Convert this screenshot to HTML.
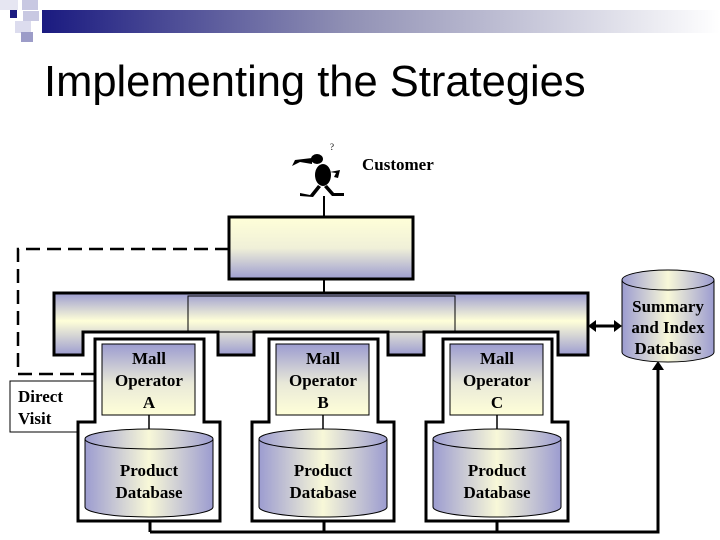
<!DOCTYPE html>
<html><head><meta charset="utf-8"><style>
html,body{margin:0;padding:0;background:#fff;width:720px;height:540px;overflow:hidden}
</style></head><body>
<svg width="720" height="540" viewBox="0 0 720 540" xmlns="http://www.w3.org/2000/svg">
<defs>
<linearGradient id="hdr" x1="0" x2="1" y1="0" y2="0"><stop offset="0" stop-color="#1a1a80"/><stop offset="0.45" stop-color="#9090b4"/><stop offset="1" stop-color="#ffffff"/></linearGradient>
<linearGradient id="vb" x1="0" x2="0" y1="0" y2="1"><stop offset="0" stop-color="#9c9cd0"/><stop offset="0.55" stop-color="#e8e8d8"/><stop offset="1" stop-color="#ffffd8"/></linearGradient>
<linearGradient id="top" x1="0" x2="0" y1="0" y2="1"><stop offset="0" stop-color="#ffffd8"/><stop offset="0.5" stop-color="#f0f0d8"/><stop offset="1" stop-color="#9c9cd0"/></linearGradient>
<linearGradient id="bar" x1="0" x2="0" y1="0" y2="1"><stop offset="0" stop-color="#9c9cd0"/><stop offset="0.45" stop-color="#ffffd8"/><stop offset="1" stop-color="#9c9cd0"/></linearGradient>
<linearGradient id="cylh" x1="0" x2="1" y1="0" y2="0"><stop offset="0" stop-color="#9c9cd0"/><stop offset="0.5" stop-color="#f8f8d8"/><stop offset="1" stop-color="#9c9cd0"/></linearGradient>
</defs>
<rect x="42" y="10" width="678" height="23" fill="url(#hdr)"/>
<rect x="0" y="0" width="18" height="10" fill="#e6e6f2"/>
<rect x="22" y="0" width="16" height="10" fill="#c8c8e2"/>
<rect x="10" y="10" width="7" height="8" fill="#1a1a80"/>
<rect x="23" y="11" width="16" height="10" fill="#c8c8e2"/>
<rect x="15" y="21" width="16" height="12" fill="#dcdcee"/>
<rect x="21" y="32" width="12" height="10" fill="#9c9cc8"/>
<text x="44" y="96" font-family="Liberation Sans, sans-serif" font-size="43.5" fill="#000">Implementing the Strategies</text>
<g fill="#000">
<ellipse cx="323" cy="175" rx="8" ry="11"/>
<ellipse cx="317" cy="159" rx="6" ry="5"/>
<path d="M312 158 L295 160 L292 166 L300 162 L312 164Z"/>
<path d="M318 185 L310 195 L300 193 L300 196 L313 197 L321 187Z"/>
<path d="M327 185 L334 193 L344 193 L344 196 L332 196 L324 187Z"/>
<path d="M330 172 L340 170 L338 178 L334 177 L336 173Z"/>
</g>
<text x="330" y="150" font-family="Liberation Serif" font-size="9">?</text>
<text x="362" y="170" font-family="Liberation Serif, serif" font-weight="bold" font-size="17">Customer</text>
<g stroke="#000" stroke-width="2" fill="none">
<line x1="324" y1="196" x2="324" y2="217"/>
<line x1="324" y1="279" x2="324" y2="293"/>
</g>
<rect x="229" y="217" width="184" height="62" fill="url(#top)" stroke="#000" stroke-width="3"/>
<path d="M54 293 H588 V355 H558 V332 H424 V355 H388 V332 H254 V355 H218 V332 H83 V355 H54 Z" fill="url(#bar)" stroke="#000" stroke-width="3"/>
<rect x="188" y="296" width="267" height="36" fill="none" stroke="#000" stroke-width="1"/>
<path d="M229 249 H18 V374 H97" fill="none" stroke="#000" stroke-width="2.5" stroke-dasharray="14,7"/>
<path d="M97 368 L104 374 L97 380Z" fill="#000"/>
<rect x="10" y="381" width="86" height="51" fill="#fff" stroke="#000" stroke-width="1"/>
<text font-family="Liberation Serif, serif" font-weight="bold" font-size="17"><tspan x="18" y="402">Direct</tspan><tspan x="18" y="424">Visit</tspan></text>
<g stroke="#000" stroke-width="3" fill="none">
<path d="M150 532 H658 V368"/>
<line x1="150" y1="517" x2="150" y2="532"/>
<line x1="324" y1="517" x2="324" y2="532"/>
<line x1="497" y1="517" x2="497" y2="532"/>
<line x1="592" y1="326" x2="618" y2="326"/>
</g>
<path d="M652 370 L658 361 L664 370Z" fill="#000"/>
<path d="M596 320 L588 326 L596 332Z" fill="#000"/>
<path d="M614 320 L622 326 L614 332Z" fill="#000"/>
<g font-family="Liberation Serif, serif" font-weight="bold" font-size="17" text-anchor="middle">
<g>
<path d="M95 339 H204 V422 H220 V521 H78 V422 H95 Z" fill="#fff" stroke="#000" stroke-width="3"/>
<rect x="102" y="344" width="93" height="71" fill="url(#vb)" stroke="#000" stroke-width="1"/>
<line x1="149" y1="415" x2="149" y2="429" stroke="#000" stroke-width="1.5"/>
<path d="M85 439 V507 A64 10 0 0 0 213 507 V439 A64 10 0 0 0 85 439Z" fill="url(#cylh)" stroke="#000"/>
<path d="M85 439 A64 10 0 0 0 213 439" fill="none" stroke="#000"/>
<text x="149" y="364">Mall</text><text x="149" y="386">Operator</text><text x="149" y="408">A</text>
<text x="149" y="476">Product</text><text x="149" y="498">Database</text>
</g>
<g transform="translate(174,0)">
<path d="M95 339 H204 V422 H220 V521 H78 V422 H95 Z" fill="#fff" stroke="#000" stroke-width="3"/>
<rect x="102" y="344" width="93" height="71" fill="url(#vb)" stroke="#000" stroke-width="1"/>
<line x1="149" y1="415" x2="149" y2="429" stroke="#000" stroke-width="1.5"/>
<path d="M85 439 V507 A64 10 0 0 0 213 507 V439 A64 10 0 0 0 85 439Z" fill="url(#cylh)" stroke="#000"/>
<path d="M85 439 A64 10 0 0 0 213 439" fill="none" stroke="#000"/>
<text x="149" y="364">Mall</text><text x="149" y="386">Operator</text><text x="149" y="408">B</text>
<text x="149" y="476">Product</text><text x="149" y="498">Database</text>
</g>
<g transform="translate(348,0)">
<path d="M95 339 H204 V422 H220 V521 H78 V422 H95 Z" fill="#fff" stroke="#000" stroke-width="3"/>
<rect x="102" y="344" width="93" height="71" fill="url(#vb)" stroke="#000" stroke-width="1"/>
<line x1="149" y1="415" x2="149" y2="429" stroke="#000" stroke-width="1.5"/>
<path d="M85 439 V507 A64 10 0 0 0 213 507 V439 A64 10 0 0 0 85 439Z" fill="url(#cylh)" stroke="#000"/>
<path d="M85 439 A64 10 0 0 0 213 439" fill="none" stroke="#000"/>
<text x="149" y="364">Mall</text><text x="149" y="386">Operator</text><text x="149" y="408">C</text>
<text x="149" y="476">Product</text><text x="149" y="498">Database</text>
</g>
<path d="M622 280 V352 A46 10 0 0 0 714 352 V280 A46 10 0 0 0 622 280Z" fill="url(#cylh)" stroke="#000"/>
<path d="M622 280 A46 10 0 0 0 714 280" fill="none" stroke="#000"/>
<text x="668" y="312">Summary</text><text x="668" y="333">and Index</text><text x="668" y="354">Database</text>
</g>
</svg>
</body></html>
